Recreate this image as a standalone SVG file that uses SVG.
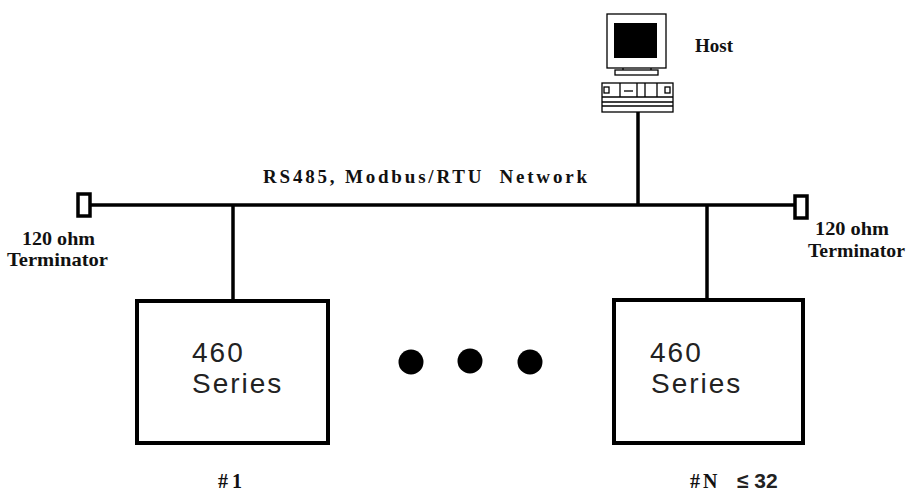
<svg xmlns="http://www.w3.org/2000/svg" width="908" height="493" viewBox="0 0 908 493">
<style>
.ln{stroke:#000;stroke-width:3.5;fill:none}
.box{stroke:#000;stroke-width:4;fill:#fff}
.thin{stroke:#000;stroke-width:1.3;fill:#fff}
.ser{font-family:"Liberation Serif",serif;font-weight:bold;fill:#111}
.sans{font-family:"Liberation Sans",Arial,sans-serif;fill:#222}
</style>
<rect width="908" height="493" fill="#fff"/>
<g id="connectors">
<line class="ln" x1="91" y1="205" x2="794" y2="205"/>
<line class="ln" x1="233" y1="205" x2="233" y2="301"/>
<line class="ln" x1="707" y1="205" x2="707" y2="300"/>
<line class="ln" x1="638" y1="112" x2="638" y2="205"/>
</g>
<g id="term-left">
<rect x="78" y="194" width="12" height="22" class="ln" style="fill:#fff"/>
<text class="ser" x="22" y="245" font-size="19" textLength="73" lengthAdjust="spacingAndGlyphs">120 ohm</text>
<text class="ser" x="7" y="266" font-size="19" textLength="101" lengthAdjust="spacingAndGlyphs">Terminator</text>
</g>
<g id="term-right">
<rect x="795" y="196" width="12" height="22" class="ln" style="fill:#fff"/>
<text class="ser" x="815" y="235" font-size="19" textLength="74" lengthAdjust="spacingAndGlyphs">120 ohm</text>
<text class="ser" x="808" y="257" font-size="19" textLength="97" lengthAdjust="spacingAndGlyphs">Terminator</text>
</g>
<g id="network-label">
<text class="ser" x="263" y="183" font-size="19" xml:space="preserve" textLength="324" lengthAdjust="spacing">RS485, Modbus/RTU  Network</text>
</g>
<g id="host">
<rect class="thin" x="607" y="14" width="59" height="54"/>
<rect x="614" y="23" width="43" height="35" fill="#000"/>
<line x1="623" y1="68" x2="623" y2="70" stroke="#000" stroke-width="1.3"/>
<line x1="651" y1="68" x2="651" y2="70" stroke="#000" stroke-width="1.3"/>
<rect class="thin" x="615" y="70" width="43" height="5"/>
<rect class="thin" x="602" y="83" width="71" height="29"/>
<line x1="602" y1="97" x2="673" y2="97" stroke="#000" stroke-width="1.3"/>
<line x1="602" y1="102" x2="673" y2="102" stroke="#000" stroke-width="1.3"/>
<line x1="602" y1="106" x2="673" y2="106" stroke="#000" stroke-width="1.3"/>
<rect class="thin" x="604" y="87" width="5" height="6"/>
<rect class="thin" x="665" y="87" width="5" height="6"/>
<line x1="620" y1="83" x2="620" y2="97" stroke="#000" stroke-width="1.3"/>
<line x1="637" y1="83" x2="637" y2="97" stroke="#000" stroke-width="1.3"/>
<line x1="645" y1="83" x2="645" y2="97" stroke="#000" stroke-width="1.3"/>
<line x1="657" y1="83" x2="657" y2="97" stroke="#000" stroke-width="1.3"/>
<line x1="624" y1="91" x2="633" y2="91" stroke="#000" stroke-width="1.3"/>
<text class="ser" x="695" y="52" font-size="18" textLength="38" lengthAdjust="spacingAndGlyphs">Host</text>
</g>
<g id="device-1">
<rect class="box" x="137" y="301" width="191" height="142"/>
<text class="sans" x="192" y="362" font-size="28" letter-spacing="2">460</text>
<text class="sans" x="192" y="393" font-size="28" letter-spacing="2">Series</text>
<text class="ser" x="218" y="488" font-size="20">#<tspan dx="4">1</tspan></text>
</g>
<g id="device-n">
<rect class="box" x="614" y="300" width="189" height="143"/>
<text class="sans" x="650" y="362" font-size="28" letter-spacing="2">460</text>
<text class="sans" x="651" y="393" font-size="28" letter-spacing="2">Series</text>
<text class="ser" x="690" y="488" font-size="20">#<tspan dx="3">N</tspan></text>
<text class="sans" x="737" y="488" font-size="21" font-weight="bold" fill="#111">≤ 32</text>
</g>
<g id="ellipsis">
<circle cx="411" cy="362" r="12.5" fill="#000"/>
<circle cx="470" cy="361" r="12.5" fill="#000"/>
<circle cx="530" cy="362" r="12.5" fill="#000"/>
</g>
</svg>
